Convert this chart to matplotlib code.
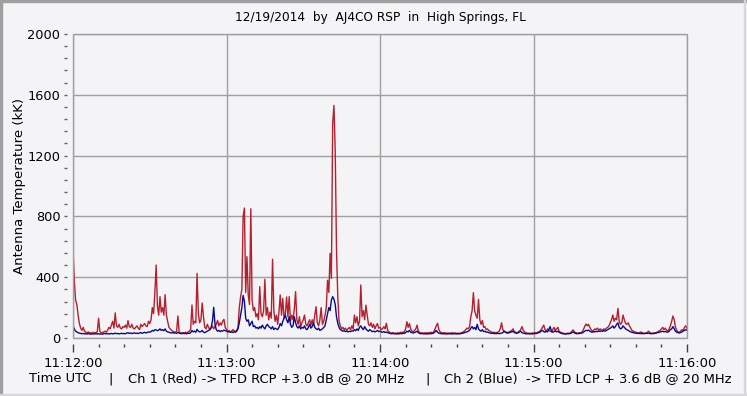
import numpy as np
import matplotlib
matplotlib.use("Agg")
import matplotlib.pyplot as plt
from matplotlib.ticker import MultipleLocator
from matplotlib.patches import Rectangle

# antenna temperature (kK), one value every 0.5 s starting 11:12:00 UTC
red = [
    590, 380, 250, 220, 150, 95, 65, 50, 70, 45, 38, 34, 40, 32, 36, 30, 38, 33, 36, 40,
    130, 42, 36, 34, 40, 45, 38, 50, 70, 60, 85, 110, 65, 165, 80, 70, 90, 65, 60, 75,
    70, 85, 65, 114, 75, 70, 90, 65, 60, 70, 80, 65, 55, 90, 75, 85, 95, 80, 75, 110,
    95, 120, 200, 160, 300, 480, 210, 150, 272, 170, 200, 150, 285, 150, 110, 70, 60, 50, 45, 40,
    38, 45, 145, 40, 35, 32, 36, 34, 38, 33, 40, 45, 60, 217, 90, 110, 100, 425, 160, 100,
    120, 230, 140, 70, 60, 90, 70, 55, 65, 80, 60, 75, 90, 115, 80, 100, 85, 110, 123, 70,
    55, 45, 50, 40, 45, 55, 48, 42, 50, 70, 200, 270, 320, 800, 855, 300, 535, 283, 220, 850,
    250, 180, 200, 140, 160, 120, 338, 160, 140, 180, 386, 150, 200, 120, 170, 130, 518, 180, 110, 150,
    90, 170, 283, 150, 260, 130, 160, 270, 140, 272, 110, 150, 120, 190, 305, 120, 90, 140, 75, 100,
    120, 151, 90, 80, 100, 120, 85, 120, 90, 150, 206, 100, 80, 120, 200, 90, 110, 150, 200, 380,
    300, 557, 392, 1412, 1530, 1226, 578, 270, 110, 80, 60, 70, 55, 65, 50, 60, 70, 55, 80, 60,
    151, 100, 140, 80, 110, 349, 140, 180, 120, 216, 150, 90, 80, 100, 70, 90, 60, 80, 95, 65,
    70, 55, 60, 75, 60, 97, 50, 40, 35, 32, 36, 30, 33, 30, 35, 32, 38, 34, 40, 38,
    60, 107, 70, 95, 60, 45, 40, 50, 60, 85, 45, 36, 32, 35, 30, 34, 32, 36, 33, 35,
    38, 34, 40, 60, 80, 97, 55, 40, 36, 33, 35, 32, 34, 30, 33, 31, 35, 32, 34, 33,
    30, 32, 30, 33, 35, 40, 45, 55, 65, 60, 75, 140, 180, 298, 180, 150, 130, 254, 120, 90,
    115, 70, 75, 55, 60, 50, 45, 40, 36, 38, 34, 36, 38, 42, 60, 100, 55, 45, 40, 38,
    36, 40, 45, 50, 60, 42, 38, 35, 38, 45, 55, 75, 50, 40, 35, 32, 30, 32, 30, 33,
    32, 35, 33, 36, 40, 45, 55, 70, 85, 55, 45, 60, 50, 45, 40, 55, 70, 50, 60, 70,
    45, 38, 35, 32, 30, 28, 30, 32, 30, 33, 45, 53, 40, 35, 33, 32, 35, 34, 40, 55,
    75, 92, 80, 90, 70, 55, 45, 50, 60, 55, 65, 50, 60, 55, 50, 60, 55, 65, 70, 80,
    100, 120, 151, 110, 130, 120, 195, 110, 90, 100, 151, 120, 95, 90, 100, 80, 65, 50, 45, 40,
    38, 35, 33, 36, 40, 35, 32, 30, 33, 38, 45, 35, 32, 30, 34, 32, 36, 40, 45, 50,
    60, 70, 55, 65, 50, 45, 60, 80, 110, 145, 120, 70, 50, 40, 38, 45, 55, 50, 70, 80,
    65,
]
blue = [
    80, 60, 45, 40, 35, 32, 30, 28, 30, 27, 28, 26, 29, 27, 25, 28, 26, 27, 29, 26,
    28, 26, 27, 25, 28, 30, 27, 29, 26, 28, 30, 27, 29, 32, 28, 30, 27, 29, 31, 28,
    30, 28, 32, 35, 30, 33, 29, 31, 34, 30, 32, 29, 33, 36, 31, 34, 38, 33, 36, 40,
    38, 42, 50, 45, 55, 53, 48, 52, 60, 50, 55, 48, 60, 45, 40, 38, 35, 33, 36, 32,
    34, 30, 38, 32, 30, 28, 31, 29, 30, 28, 32, 30, 35, 50, 40, 45, 38, 57, 45, 40,
    42, 50, 38, 35, 40, 45, 50, 55, 70, 110, 202, 90, 55, 45, 50, 42, 48, 45, 52, 48,
    45, 40, 42, 38, 40, 36, 42, 38, 45, 60, 100, 150, 200, 280, 240, 130, 110, 120, 80, 95,
    110, 75, 80, 65, 70, 60, 75, 65, 85, 70, 60, 80, 90, 75, 70, 60, 75, 55, 65, 60,
    55, 70, 95, 80, 110, 130, 150, 120, 100, 140, 90, 70, 80, 140, 100, 75, 65, 80, 60, 70,
    65, 80, 60, 55, 70, 90, 65, 75, 100, 70, 60, 55, 65, 50, 55, 60, 70, 80, 120, 160,
    200, 180, 250, 272, 255, 220, 140, 97, 70, 55, 50, 45, 48, 42, 45, 40, 44, 42, 48, 45,
    55, 48, 60, 50, 70, 80, 65, 55, 75, 60, 50, 45, 55, 48, 42, 45, 40, 44, 50, 42,
    45, 40, 38, 42, 36, 40, 35, 32, 30, 28, 30, 27, 29, 26, 28, 27, 30, 28, 32, 30,
    35, 45, 40, 50, 38, 35, 33, 36, 40, 45, 35, 30, 28, 30, 27, 29, 26, 28, 27, 29,
    28, 30, 33, 40, 50, 38, 32, 30, 28, 29, 27, 28, 26, 28, 27, 29, 26, 28, 27, 28,
    26, 28, 27, 29, 30, 32, 35, 38, 40, 45, 50, 65, 75, 60, 70, 55, 90, 60, 50, 45,
    55, 42, 45, 38, 40, 35, 33, 30, 32, 29, 30, 28, 31, 29, 30, 32, 35, 45, 38, 33,
    32, 35, 38, 40, 45, 36, 33, 31, 34, 40, 45, 35, 32, 30, 28, 27, 29, 26, 28, 27,
    28, 30, 29, 32, 35, 38, 45, 50, 42, 38, 45, 40, 55, 75, 45, 38, 42, 48, 40, 45,
    38, 33, 30, 28, 27, 26, 28, 27, 29, 30, 35, 40, 33, 30, 28, 29, 30, 32, 33, 38,
    45, 50, 48, 52, 45, 40, 38, 42, 40, 44, 42, 45, 43, 47, 44, 48, 45, 50, 55, 60,
    65, 70, 80, 65, 75, 90, 100, 70, 60, 65, 80, 70, 60, 55, 50, 45, 40, 38, 35, 33,
    32, 30, 31, 29, 30, 28, 30, 29, 31, 30, 32, 29, 28, 30, 29, 31, 33, 35, 38, 40,
    42, 45, 40, 43, 40, 38, 45, 55, 60, 75, 60, 45, 38, 35, 33, 36, 40, 45, 50, 55,
    50,
]
sample_step = 0.5  # seconds

xtick_pos = [0, 60, 120, 180, 240]
xtick_labels = ["11:12:00", "11:13:00", "11:14:00", "11:15:00", "11:16:00"]
yticks = [0, 400, 800, 1200, 1600, 2000]

title = "12/19/2014  by  AJ4CO RSP  in  High Springs, FL"
footer = ["Time UTC", "|", "Ch 1 (Red) -> TFD RCP +3.0 dB @ 20 MHz", "|",
          "Ch 2 (Blue)  -> TFD LCP + 3.6 dB @ 20 MHz"]

bg = "#f4f4f6"
W, H = 747, 396
fig = plt.figure(figsize=(W / 100, H / 100), dpi=100, facecolor=bg)
ax = fig.add_axes([73 / W, 1 - 338 / H, (687 - 73) / W, (338 - 34) / H])
ax.set_facecolor(bg)

t = np.arange(len(red)) * sample_step
ax.plot(t, red, color="#b4202e", lw=1.0)
ax.plot(t, blue, color="#0a0a8c", lw=1.0)

ax.set_xlim(0, 240)
ax.set_ylim(0, 2000)
ax.set_xticks(xtick_pos)
ax.set_xticklabels(xtick_labels)
ax.set_yticks(yticks)
ax.xaxis.set_minor_locator(MultipleLocator(10))
ax.yaxis.set_minor_locator(MultipleLocator(80))
ax.grid(True, which="major", color="#a0a0a0", lw=1)

# ticks float a few pixels away from the frame
for s in ["left", "bottom"]:
    ax.spines[s].set_position(("outward", 4))
for s in ax.spines.values():
    s.set_edgecolor("none")
ax.add_patch(Rectangle((0, 0), 1, 1, transform=ax.transAxes, fill=False,
                       edgecolor="#a0a0a0", lw=1, clip_on=False, zorder=5))

ax.tick_params(axis="y", which="both", direction="out", length=2, width=1,
               color="#606060", pad=3, labelsize=9.3)
ax.tick_params(axis="x", which="major", direction="out", length=6, width=1,
               color="#404040", pad=4, labelsize=9.5)
ax.tick_params(axis="x", which="minor", direction="out", length=2, width=1,
               color="#404040")
ax.set_ylabel("Antenna Temperature (kK)", fontsize=9.5, labelpad=1)

fig.text(380 / W, 1 - 18 / H, title, ha="center", va="center", fontsize=8.7)

xs = [29, 108, 128, 425, 444]
for x, s in zip(xs, footer):
    fig.text(x / W, 1 - 379 / H, s, ha="left", va="center", fontsize=9.45)

# sunken window border
fig.add_artist(Rectangle((0, 1 - 2 / H), 1, 2 / H, transform=fig.transFigure, color="#a0a0a0"))
fig.add_artist(Rectangle((0, 0), 2 / W, 1, transform=fig.transFigure, color="#a0a0a0"))
fig.add_artist(Rectangle((1 - 3 / W, 0), 1 / W, 1, transform=fig.transFigure, color="#d8d8dc"))
fig.add_artist(Rectangle((0, 1 / H), 1, 1 / H, transform=fig.transFigure, color="#d8d8dc"))

fig.savefig("out.png", dpi=100, facecolor=bg)
